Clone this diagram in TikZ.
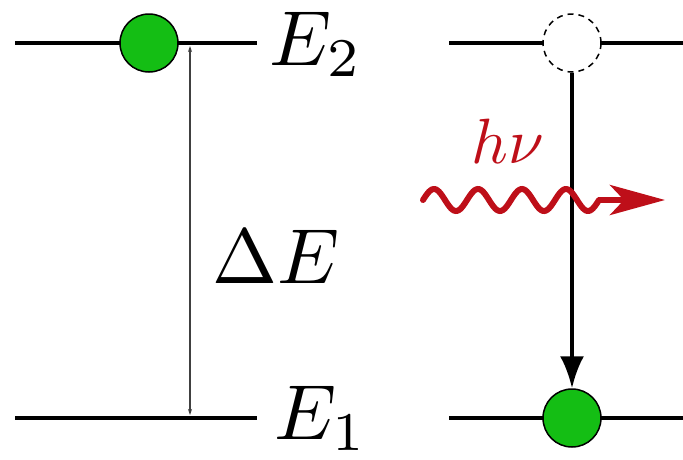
\documentclass[tikz,border=0pt]{standalone}
\usetikzlibrary{arrows.meta}
\definecolor{elgreen}{RGB}{20,190,20}
\definecolor{photonred}{RGB}{190,15,25}
\begin{document}
\begin{tikzpicture}[x=1pt,y=-1pt,
  level/.style={line width=4.5pt},
  electron/.style={circle, draw=black, line width=1.5pt, fill=elgreen, minimum size=58pt, inner sep=0pt},
  hole/.style={circle, draw=black, dash pattern=on 6pt off 5pt, line width=1.5pt, fill=white, minimum size=58pt, inner sep=0pt},
  lab/.style={scale=7.8, inner sep=0pt, anchor=base west},
  photon/.style={photonred, line width=6pt}]
\useasboundingbox (0,0) rectangle (683,459);
% energy levels
\coordinate (l2a) at (15,43);  \coordinate (l2b) at (257,43);
\coordinate (l1a) at (15,418); \coordinate (l1b) at (257,418);
\coordinate (r2a) at (449,43); \coordinate (r2b) at (683,43);
\coordinate (r1a) at (449,418); \coordinate (r1b) at (683,418);
\draw[level] (l2a) -- (l2b);
\draw[level] (l1a) -- (l1b);
\draw[level] (r2a) -- (r2b);
\draw[level] (r1a) -- (r1b);
% energy gap arrow
\coordinate (dtop) at (190,46);
\coordinate (dbot) at (190,415);
\draw[line width=1.2pt, black!75, {Stealth[length=6pt,width=4pt]}-{Stealth[length=6pt,width=4pt]}] (dtop) -- (dbot);
% electrons
\node[electron] (e2) at (149,43) {};
\node[hole] (h2) at (572,43) {};
\node[electron] (e1) at (572,418) {};
% transition
\draw[line width=4pt, -{Latex[length=32pt,width=24pt]}] (h2.south) -- (e1.north);
% photon
\coordinate (we) at (598,200);
\coordinate (wt) at (665,200);
\draw[photon, line cap=round] plot[domain=0:176, samples=120, smooth] ({423+\x}, {200-11*sin(\x/44*360)});
\draw[photon, -{Stealth[length=55pt,width=30pt,inset=14pt]}] (we) -- (wt);
\node[scale=6.4, text=photonred, inner sep=0pt] (hnu) at (508,141) {$h\nu$};
% labels
\node[lab] (E2) at (268,65) {$E_2$};
\node[lab] (E1) at (273,439) {$E_1$};
\node[lab] (dE) at (211,283) {$\Delta E$};
\end{tikzpicture}
\end{document}
